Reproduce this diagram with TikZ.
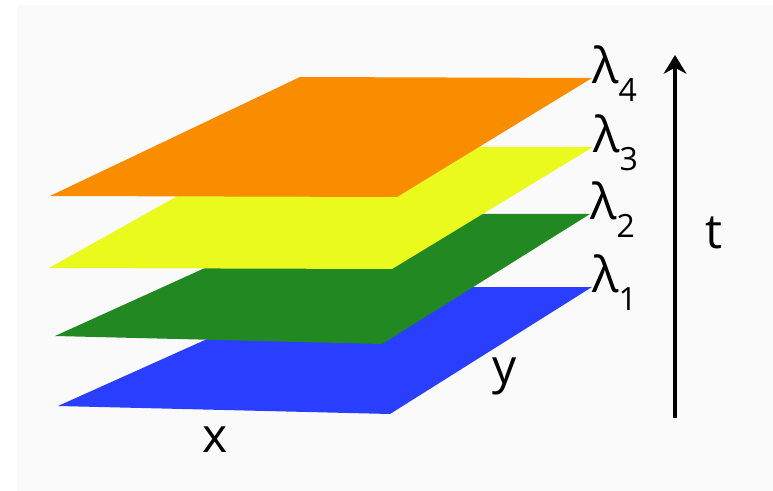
\documentclass[tikz,border=0pt]{standalone}
\usepackage{fontspec}
\setmainfont{Open Sans}
\usetikzlibrary{arrows.meta}
\definecolor{layerorange}{RGB}{250,140,0}
\definecolor{layeryellow}{RGB}{234,250,28}
\definecolor{layergreen}{RGB}{34,137,34}
\definecolor{layerblue}{RGB}{42,62,255}
\definecolor{paper}{RGB}{250,250,250}
\newcommand{\lamsub}[1]{{\fontsize{37}{37}\selectfont λ}\raisebox{-13.5pt}{\fontsize{24}{24}\selectfont #1}}

\begin{document}
\begin{tikzpicture}[
    x=0.75pt, y=-0.75pt,
    axislabel/.style={anchor=base, inner sep=0pt, font=\fontsize{36}{36}\selectfont},
    lamlabel/.style={anchor=base west, inner sep=0pt, xshift=0pt, yshift=-4pt},
    timearrow/.style={-{Stealth[length=14pt, width=17pt, inset=4.5pt]}, line width=2.9pt}
]
\useasboundingbox (0,0) rectangle (773,491);
\fill[paper] (17,5) rectangle (773,491);

% layers, bottom to top
\coordinate (c1) at (592,287);
\coordinate (c2) at (590,214);
\coordinate (c3) at (593,147);
\coordinate (c4) at (592,78);
\fill[layerblue] (58,406) -- (390,414) -- (c1) -- (323,287) -- cycle;
\fill[layergreen] (55,336) -- (382,344) -- (c2) -- (324,214) -- cycle;
\fill[layeryellow] (49,268) -- (392,269) -- (c3) -- (265,147) -- cycle;
\fill[layerorange] (50,196) -- (397,197) -- (c4) -- (300,77) -- cycle;

\node[lamlabel] (lam1) at (c1) {\lamsub{1}};
\node[lamlabel] (lam2) at (c2) {\lamsub{2}};
\node[lamlabel] (lam3) at (c3) {\lamsub{3}};
\node[lamlabel] (lam4) at (c4) {\lamsub{4}};

\node[axislabel] (xlabel) at (215,452) {x};
\node[axislabel] (ylabel) at (505,383) {y};

% time axis
\coordinate (tbot) at (675,418);
\coordinate (ttop) at (675,55);
\draw[timearrow] (tbot) -- (ttop);
\node[axislabel] (tlabel) at (714,248) {t};

\end{tikzpicture}
\end{document}
